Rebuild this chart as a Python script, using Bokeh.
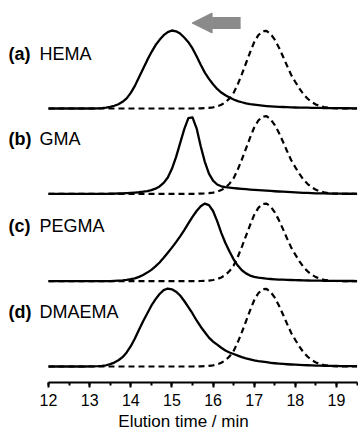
from bokeh.plotting import figure
from bokeh.models import Range1d, SingleIntervalTicker, Arrow, NormalHead
from bokeh.core.properties import value
from bokeh.embed import file_html
from bokeh.resources import INLINE

# ---------------- data ----------------
TIME = [12.0, 12.1, 12.2, 12.3, 12.4, 12.5, 12.6, 12.7, 12.8, 12.9,
        13.0, 13.1, 13.2, 13.3, 13.4, 13.5, 13.6, 13.7, 13.8, 13.9,
        14.0, 14.1, 14.2, 14.3, 14.4, 14.5, 14.6, 14.7, 14.8, 14.9,
        15.0, 15.1, 15.2, 15.3, 15.4, 15.5, 15.6, 15.7, 15.8, 15.9,
        16.0, 16.1, 16.2, 16.3, 16.4, 16.5, 16.6, 16.7, 16.8, 16.9,
        17.0, 17.1, 17.2, 17.3, 17.4, 17.5, 17.6, 17.7, 17.8, 17.9,
        18.0, 18.1, 18.2, 18.3, 18.4, 18.5, 18.6, 18.7, 18.8, 18.9,
        19.0, 19.1, 19.2, 19.3, 19.4, 19.5]

# macroinitiator (dashed), normalised intensity
MACRO = [0, 0, 0, 0, 0, 0, 0, 0, 0, 0,
         0, 0, 0, 0, 0, 0, 0, 0, 0, 0,
         0, 0, 0, 0, 0, 0, 0, 0, 0, 0,
         0, 0, 0, 0, 0, 0, 0.001, 0.002, 0.004, 0.008,
         0.015, 0.027, 0.048, 0.08, 0.13, 0.2, 0.31, 0.44, 0.58, 0.72,
         0.85, 0.94, 0.99, 0.995, 0.956, 0.882, 0.783, 0.667, 0.546, 0.43,
         0.34, 0.255, 0.18, 0.125, 0.083, 0.052, 0.031, 0.018, 0.01, 0.005,
         0.002, 0.001, 0, 0, 0, 0]

HEMA = [0, 0, 0, 0, 0, 0, 0, 0, 0, 0,
        0, 0, 0.002, 0.005, 0.011, 0.02, 0.035, 0.055, 0.085, 0.13,
        0.2, 0.29, 0.4, 0.51, 0.62, 0.72, 0.81, 0.88, 0.94, 0.98,
        1.0, 0.99, 0.96, 0.91, 0.85, 0.77, 0.67, 0.56, 0.46, 0.38,
        0.31, 0.25, 0.205, 0.17, 0.14, 0.115, 0.095, 0.08, 0.067, 0.057,
        0.049, 0.042, 0.036, 0.031, 0.027, 0.024, 0.021, 0.019, 0.017, 0.015,
        0.013, 0.012, 0.011, 0.01, 0.009, 0.008, 0.007, 0.006, 0.005, 0.005,
        0.004, 0.004, 0.003, 0.003, 0.002, 0.002]

GMA = [0, 0, 0, 0, 0, 0, 0, 0, 0, 0,
       0, 0, 0, 0, 0, 0.002, 0.003, 0.004, 0.006, 0.008,
       0.011, 0.015, 0.02, 0.027, 0.036, 0.048, 0.066, 0.095, 0.14, 0.21,
       0.32, 0.47, 0.65, 0.83, 0.97, 0.98, 0.84, 0.61, 0.41, 0.26,
       0.17, 0.12, 0.097, 0.086, 0.079, 0.073, 0.068, 0.063, 0.059, 0.055,
       0.051, 0.047, 0.044, 0.04, 0.037, 0.033, 0.03, 0.027, 0.024, 0.021,
       0.018, 0.015, 0.013, 0.011, 0.009, 0.007, 0.006, 0.005, 0.004, 0.003,
       0.002, 0.002, 0.001, 0.001, 0.001, 0]

PEGMA = [0, 0, 0, 0, 0, 0, 0, 0, 0, 0,
         0, 0, 0, 0, 0, 0.002, 0.004, 0.007, 0.011, 0.017,
         0.025, 0.037, 0.055, 0.08, 0.11, 0.145, 0.19, 0.24, 0.3, 0.365,
         0.43, 0.5, 0.575, 0.655, 0.74, 0.825, 0.9, 0.96, 0.995, 0.975,
         0.9, 0.77, 0.62, 0.49, 0.38, 0.28, 0.2, 0.14, 0.1, 0.072,
         0.055, 0.045, 0.038, 0.032, 0.028, 0.024, 0.021, 0.019, 0.017, 0.015,
         0.013, 0.012, 0.01, 0.009, 0.008, 0.007, 0.006, 0.005, 0.004, 0.004,
         0.003, 0.003, 0.002, 0.002, 0.002, 0.001]

DMAEMA = [0, 0, 0, 0, 0, 0, 0, 0, 0, 0,
          0.001, 0.002, 0.004, 0.008, 0.016, 0.03, 0.05, 0.08, 0.12, 0.18,
          0.26, 0.36, 0.47, 0.58, 0.68, 0.78, 0.86, 0.93, 0.98, 1.0,
          0.99, 0.96, 0.91, 0.84, 0.76, 0.68, 0.59, 0.51, 0.44, 0.37,
          0.32, 0.28, 0.24, 0.205, 0.18, 0.16, 0.14, 0.12, 0.105, 0.092,
          0.08, 0.07, 0.062, 0.055, 0.048, 0.042, 0.037, 0.033, 0.029, 0.026,
          0.023, 0.02, 0.018, 0.016, 0.014, 0.012, 0.011, 0.01, 0.009, 0.008,
          0.007, 0.006, 0.005, 0.005, 0.004, 0.004]

PANEL_TAGS = ["(a)", "(b)", "(c)", "(d)"]
PANEL_NAMES = ["HEMA", "GMA", "PEGMA", "DMAEMA"]
TICK_VALUES = [12, 13, 14, 15, 16, 17, 18, 19]
X_LABEL = "Elution time / min"

# ---------------- layout ----------------
SERIES = [HEMA, GMA, PEGMA, DMAEMA]
OFFSETS = [3.308, 2.214, 1.094, 0.0]      # vertical stacking of the traces
LABEL_LIFT = 0.705                          # label height above each baseline
X_START, X_END = 11.028, 19.535
Y_START, Y_END = -0.205, 4.590
FONT = "Liberation Sans"

p = figure(width=358, height=434,
           min_border_left=8, min_border_top=8, min_border_right=0,
           min_border_bottom=52,
           x_range=Range1d(X_START, X_END), y_range=Range1d(Y_START, Y_END),
           y_axis_location=None, toolbar_location=None, output_backend="svg")
p.outline_line_color = None
p.xgrid.visible = False
p.ygrid.visible = False
p.background_fill_color = "white"
p.border_fill_color = "white"

for series, off in zip(SERIES, OFFSETS):
    p.line(TIME, [v + off for v in MACRO], line_color="black", line_width=2.2,
           line_dash="6 4")
for series, off in zip(SERIES, OFFSETS):
    p.line(TIME, [v + off for v in series], line_color="black", line_width=2.3,
           line_join="round")

label_y = [off + LABEL_LIFT for off in OFFSETS]
p.text(x=[X_START] * 4, y=label_y, text=PANEL_TAGS, text_font=value(FONT),
       text_font_style="bold", text_font_size="18px", text_color="black",
       text_align="left", text_baseline="middle")
p.text(x=[X_START] * 4, y=label_y, text=PANEL_NAMES, text_font=value(FONT),
       text_font_size="18px", text_color="black", text_align="left",
       text_baseline="middle", x_offset=31)

# grey arrow pointing to shorter elution time
ARROW_Y = 4.404
p.add_layout(Arrow(end=NormalHead(size=20, fill_color="#8a8a8a", line_color="#8a8a8a"),
                   x_start=16.67, y_start=ARROW_Y, x_end=15.49, y_end=ARROW_Y,
                   line_color="#8a8a8a", line_width=12))

ax = p.xaxis[0]
ax.ticker = SingleIntervalTicker(interval=1, num_minor_ticks=2)
ax.bounds = (12, 19.5)
ax.axis_line_width = 2
ax.axis_line_color = "black"
ax.major_tick_line_width = 2
ax.minor_tick_line_width = 2
ax.major_tick_out = 5
ax.major_tick_in = 0
ax.minor_tick_out = 3
ax.minor_tick_in = 0
ax.major_label_standoff = 6
ax.major_label_text_font = FONT
ax.major_label_text_font_size = "16px"
ax.major_label_text_color = "black"
ax.axis_label = X_LABEL
ax.axis_label_standoff = 3
ax.axis_label_text_font = FONT
ax.axis_label_text_font_size = "17px"
ax.axis_label_text_font_style = "normal"
ax.axis_label_text_color = "black"

open("out.html", "w").write(file_html(p, INLINE))
